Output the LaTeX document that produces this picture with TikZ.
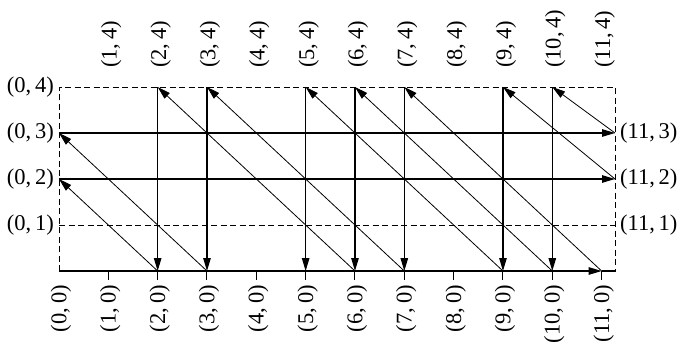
\documentclass[tikz,border=0pt]{standalone}
\usepackage{fontspec}
\setmainfont{Liberation Serif}
\usetikzlibrary{arrows.meta}
\begin{document}
\begin{tikzpicture}[x=1pt,y=-1pt,
  lbl/.style={font=\fontsize{22.5}{27}\selectfont, inner sep=0pt},
  frame/.style={line width=1pt, dash pattern=on 6pt off 3.5pt},
  gridline/.style={line width=1.1pt},
  tickline/.style={line width=1pt},
  tip/.style={-{Triangle[length=13pt,width=7.5pt]}},
  arr/.style={line width=1.1pt, tip},
  diag/.style={line width=0.8pt, tip}]
\useasboundingbox (0,0) rectangle (682,345);

% lattice points (i,j) and points on the right edge
\foreach \i in {0,...,11}
  \foreach \j in {0,...,4}
    \coordinate (p\i-\j) at ({59+49.33*\i},{271-46*\j});
\foreach \j in {0,...,4}
  \coordinate (r\j) at (615,{271-46*\j});
\foreach \i in {1,...,11}
  \coordinate (t\i) at ({59+49.33*\i},280);

% dashed frame and the dashed row j=1
\draw[frame] (p0-0) rectangle (r4);
\draw[frame] (p0-1) -- (r1);

% bottom axis with ticks
\draw[arr] (p0-0) -- (p11-0);
\draw[gridline] (p11-0) -- (r0);
\foreach \i in {1,...,11}
  \draw[tickline] (p\i-0) -- (t\i);

% horizontal rows
\draw[arr] (p0-2) -- (r2);
\draw[arr] (p0-3) -- (r3);

% vertical columns
\foreach \i in {2,3,5,6,7,9,10}
  \draw[arr] (p\i-4) -- (p\i-0);

% diagonal wrap-around arrows
\draw[diag] (p2-0) -- (p0-2);
\draw[diag] (p3-0) -- (p0-3);
\draw[diag] (p6-0) -- (p2-4);
\draw[diag] (p7-0) -- (p3-4);
\draw[diag] (p9-0) -- (p5-4);
\draw[diag] (p10-0) -- (p6-4);
\draw[diag] (p11-0) -- (p7-4);
\draw[diag] (r2) -- (p9-4);
\draw[diag] (r3) -- (p10-4);

% labels
\foreach \i in {1,...,11}
  \node[lbl, rotate=90, anchor=west] (top\i) at ([shift={(3,-19)}]p\i-4) {(\i,\,4)};
\foreach \i in {0,...,11}
  \node[lbl, rotate=90, anchor=east] (bot\i) at ([shift={(2,14)}]p\i-0) {(\i,\,0)};
\foreach \j in {1,...,4}
  \node[lbl, anchor=east] (left\j) at ([shift={(-5,0)}]p0-\j) {(0,\,\j)};
\foreach \j in {1,2,3}
  \node[lbl, anchor=west] (right\j) at ([shift={(5,0)}]r\j) {(11,\,\j)};
\end{tikzpicture}
\end{document}
